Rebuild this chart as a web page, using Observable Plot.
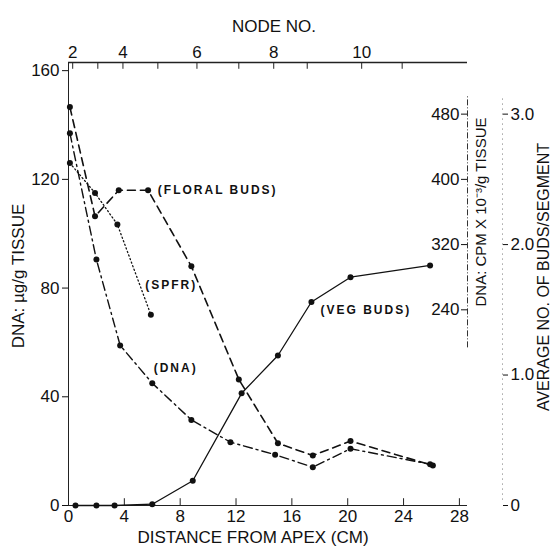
<!DOCTYPE html>
<html><head><meta charset="utf-8">
<script src="https://cdn.jsdelivr.net/npm/d3@7"></script>
<script src="https://cdn.jsdelivr.net/npm/@observablehq/plot@0.6"></script>
<style>body{margin:0;background:#fff}</style>
</head><body><div id="chart"></div>
<script>
// Distance from apex (cm) and values (DNA µg/g tissue)
const floralDist = [0.1, 1.9, 3.6, 5.7, 8.8, 12.2, 15.0, 17.5, 20.2, 26.1];
const floralDNA  = [146.6, 106.4, 116, 116, 88, 46.4, 22.9, 18.4, 23.7, 14.7];
const dnaDist    = [0.1, 2.0, 3.7, 6.0, 8.8, 11.6, 14.8, 17.5, 20.2, 25.9];
const dnaDNA     = [137, 90.5, 58.9, 45, 31.5, 23.3, 18.7, 14.1, 20.9, 15.2];
const spfrDist   = [0.1, 1.9, 3.5, 5.9];
const spfrDNA    = [126, 115, 103.4, 70.2];
// Vegetative buds: average no. of buds / segment
const vegDist    = [0.5, 2.0, 3.3, 6.0, 8.9, 12.4, 15.0, 17.4, 20.2, 25.9];
const vegBuds    = [0, 0, 0, 0.01, 0.19, 0.86, 1.15, 1.56, 1.75, 1.84];

// Axes ticks
const leftTicks  = [0, 40, 80, 120, 160];
const distTicks  = [0, 4, 8, 12, 16, 20, 24, 28];
const nodeCm     = [0.3, 2.1, 3.9, 6.4, 9.2, 12.2, 14.7, 17.1, 21.0, 23.9];
const nodeNums   = [2, 3, 4, 5, 6, 7, 8, 9, 10, 11];
const cpmTicks   = [240, 320, 400, 480];
const budTicks   = [0, 1, 2, 3];

// Secondary-scale conversions into left-axis units
const CPM_TO_DNA = 0.3;
const BUDS_TO_DNA = 48;

// Series labels (data coordinates)
const seriesLabels = [
  {text: "(FLORAL BUDS)", x: 6.4, y: 116},
  {text: "(SPFR)", x: 5.5, y: 81},
  {text: "(DNA)", x: 6.1, y: 50.4},
  {text: "(VEG BUDS)", x: 18.05, y: 71.8}
];

const rows = (xs, ys, k = 1) => xs.map((x, i) => ({x, y: ys[i] * k}));
const floral = rows(floralDist, floralDNA);
const dna = rows(dnaDist, dnaDNA);
const spfr = rows(spfrDist, spfrDNA);
const veg = rows(vegDist, vegBuds, BUDS_TO_DNA);

const nodeMajor = nodeCm.filter((c, i) => nodeNums[i] % 2 === 0);
const nodeLabel = new Map(nodeCm.map((c, i) => [c, String(nodeNums[i])]));

const XMAX = 28.58, YMAX = 163;
const font = "Liberation Sans, Arial, sans-serif";

const chart = Plot.plot({
  width: 557, height: 552,
  marginLeft: 68, marginRight: 90, marginTop: 62, marginBottom: 47,
  x: {domain: [0, XMAX]},
  y: {domain: [0, YMAX]},
  style: {fontFamily: font, fontSize: "17px", color: "#111", background: "#fff"},
  marks: [
    // axis lines
    Plot.ruleX([0], {y1: 0, y2: YMAX, stroke: "#222", strokeWidth: 1}),
    Plot.ruleY([0], {x1: 0, x2: XMAX, stroke: "#222", strokeWidth: 1}),
    Plot.ruleY([YMAX], {x1: 0, x2: XMAX, stroke: "#222", strokeWidth: 1.3}),
    Plot.ruleX([XMAX], {y1: 58, y2: 151, stroke: "#333", strokeDasharray: "6,2,1,2"}),
    Plot.ruleX([XMAX], {y1: 2, y2: 150, dx: 35, stroke: "#777", strokeDasharray: "1,4"}),
    // left axis
    Plot.axisY(leftTicks, {anchor: "left", tickSize: 6, tickPadding: 3, label: null}),
    // bottom axis with inward ticks
    Plot.axisX(distTicks, {anchor: "bottom", tickSize: 0, tickPadding: 4, label: null}),
    Plot.ruleX(distTicks, {y1: 0, y2: 2.5, stroke: "#222"}),
    // top node axis
    Plot.axisX(nodeMajor, {anchor: "top", tickSize: 0, tickPadding: 5, tickFormat: d => nodeLabel.get(d), label: null}),
    Plot.ruleX(nodeCm, {y1: YMAX, y2: YMAX - 2.5, stroke: "#222"}),
    // right CPM axis
    Plot.axisY(cpmTicks.map(v => v * CPM_TO_DNA), {anchor: "left", dx: 399, tickSize: 6, tickPadding: 2,
      tickFormat: d => String(Math.round(d / CPM_TO_DNA)), label: null}),
    // right buds axis
    Plot.axisY(budTicks.map(v => v * BUDS_TO_DNA), {anchor: "right", dx: 35, tickSize: 5, tickPadding: 3,
      tickFormat: d => d === 0 ? "0" : (d / BUDS_TO_DNA).toFixed(1), label: null}),
    // axis titles
    Plot.text(["NODE NO."], {frameAnchor: "top", textAnchor: "middle", dx: 6, dy: -43, fontSize: 17}),
    Plot.text(["DISTANCE FROM APEX (CM)"], {frameAnchor: "bottom", textAnchor: "middle", dx: -15, dy: 37, fontSize: 17}),
    Plot.text(["DNA: \u00b5g/g TISSUE"], {frameAnchor: "left", textAnchor: "middle", dx: -50, dy: -8, rotate: -90, fontSize: 17}),
    Plot.text(["DNA: CPM X 10\u207b\u00b3/g TISSUE"], {frameAnchor: "right", textAnchor: "middle", dx: 14, dy: -72, rotate: -90, fontSize: 15}),
    Plot.text(["AVERAGE NO. OF BUDS/SEGMENT"], {frameAnchor: "right", textAnchor: "middle", dx: 76, dy: -7, rotate: -90, fontSize: 16}),
    // series
    Plot.line(floral, {x: "x", y: "y", stroke: "#111", strokeWidth: 1.6, strokeDasharray: "8,5"}),
    Plot.line(dna, {x: "x", y: "y", stroke: "#111", strokeWidth: 1.4, strokeDasharray: "9,4,2,4"}),
    Plot.line(spfr, {x: "x", y: "y", stroke: "#111", strokeWidth: 1.3, strokeDasharray: "1.2,2.6"}),
    Plot.line(veg, {x: "x", y: "y", stroke: "#111", strokeWidth: 1.3}),
    Plot.dot(floral, {x: "x", y: "y", r: 3, fill: "#111"}),
    Plot.dot(dna, {x: "x", y: "y", r: 3, fill: "#111"}),
    Plot.dot(spfr, {x: "x", y: "y", r: 3, fill: "#111"}),
    Plot.dot(veg, {x: "x", y: "y", r: 3, fill: "#111"}),
    Plot.text(seriesLabels, {x: "x", y: "y", text: "text", textAnchor: "start", fontSize: 12, fontWeight: "bold"})
  ]
});

const svg = d3.select(chart);
svg.selectAll("text").filter(function() { return /^\(/.test(this.textContent); })
  .style("letter-spacing", "2px");
document.getElementById("chart").appendChild(chart);
</script>
</body></html>
